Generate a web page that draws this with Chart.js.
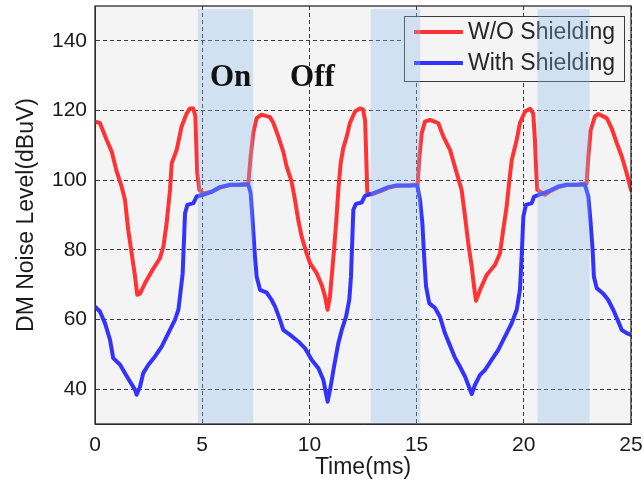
<!DOCTYPE html>
<html>
<head>
<meta charset="utf-8">
<script src="https://cdn.jsdelivr.net/npm/chart.js@4/dist/chart.umd.min.js"></script>
<style>
  html, body { margin: 0; padding: 0; background: #ffffff; }
  #wrap { width: 643px; height: 484px; }
</style>
</head>
<body>
<div id="wrap"><canvas id="c" width="643" height="484"></canvas></div>
<script>
// Differential-mode noise over 25 ms, with and without shielding
const timeWO = [0, 0.23, 0.54, 0.78, 1.01, 1.24, 1.40, 1.55, 1.71, 1.87, 1.97, 2.10, 2.33, 2.64, 3.03, 3.19, 3.34, 3.50, 3.58, 3.81, 4.04, 4.28, 4.43, 4.58, 4.68, 4.73, 4.77, 4.87, 5.05, 5.44, 5.83, 6.30, 6.76, 7.15, 7.26, 7.38, 7.54, 7.77, 8.16, 8.32, 8.55, 8.78, 8.94, 9.17, 9.33, 9.48, 9.64, 9.87, 10.03, 10.34, 10.57, 10.73, 10.85, 10.96, 11.04, 11.15, 11.27, 11.35, 11.46, 11.58, 11.74, 11.89, 12.13, 12.36, 12.50, 12.60, 12.65, 12.70, 12.91, 13.29, 13.68, 14.07, 14.69, 15.05, 15.13, 15.24, 15.39, 15.63, 16.01, 16.25, 16.56, 16.85, 17.10, 17.26, 17.41, 17.57, 17.68, 17.77, 17.96, 18.27, 18.66, 18.89, 19.04, 19.20, 19.33, 19.44, 19.67, 19.82, 20.06, 20.29, 20.44, 20.52, 20.57, 20.63, 20.99, 21.22, 21.61, 22.00, 22.50, 22.93, 23.01, 23.12, 23.32, 23.48, 23.87, 24.10, 24.34, 24.57, 24.80, 25.0];
const levelWO = [116.8, 116.4, 111.6, 108.2, 102.5, 98.2, 94.3, 85.7, 79.0, 72.3, 67.1, 67.4, 70.4, 73.8, 77.6, 80.9, 87.6, 97.2, 104.9, 108.7, 115.4, 119.2, 120.6, 120.6, 118.5, 109.0, 102.0, 97.2, 96.2, 96.6, 97.9, 98.6, 98.7, 99.1, 106.8, 113.5, 117.8, 118.8, 118.1, 116.4, 112.5, 108.2, 103.9, 99.6, 94.3, 88.6, 83.8, 79.0, 76.2, 73.3, 70.0, 66.6, 62.8, 66.6, 72.3, 80.0, 89.6, 97.2, 104.9, 109.2, 112.5, 116.4, 119.7, 120.6, 120.3, 117.0, 107.0, 96.3, 95.9, 96.8, 97.8, 98.4, 98.5, 98.8, 106.8, 113.5, 116.8, 117.3, 116.4, 112.5, 108.7, 102.5, 97.2, 89.6, 81.9, 75.2, 69.5, 65.4, 68.5, 72.8, 75.7, 79.0, 85.7, 92.4, 100.1, 105.8, 111.6, 116.4, 119.7, 120.5, 119.2, 111.6, 103.9, 97.2, 95.8, 96.8, 98.0, 98.6, 98.7, 99.1, 106.8, 114.4, 118.3, 119.0, 117.8, 114.9, 110.6, 106.8, 102.0, 97.2];

const timeWith = [0, 0.23, 0.47, 0.70, 0.85, 1.17, 1.40, 1.63, 1.87, 1.94, 2.10, 2.25, 2.49, 2.80, 3.11, 3.42, 3.73, 3.89, 4.00, 4.09, 4.15, 4.20, 4.31, 4.59, 4.74, 5.05, 5.44, 5.83, 6.30, 6.76, 7.15, 7.26, 7.36, 7.46, 7.54, 7.70, 8.01, 8.24, 8.40, 8.63, 8.78, 9.10, 9.48, 9.79, 10.11, 10.42, 10.65, 10.77, 10.85, 10.99, 11.15, 11.35, 11.51, 11.71, 11.86, 11.94, 12.00, 12.05, 12.17, 12.44, 12.59, 12.91, 13.29, 13.68, 14.07, 14.69, 15.03, 15.16, 15.27, 15.35, 15.44, 15.59, 15.86, 16.09, 16.32, 16.56, 16.79, 17.02, 17.26, 17.41, 17.57, 17.72, 17.96, 18.19, 18.50, 18.81, 19.12, 19.44, 19.67, 19.82, 19.90, 19.98, 20.10, 20.37, 20.48, 20.83, 21.22, 21.61, 22.00, 22.85, 23.01, 23.12, 23.21, 23.27, 23.40, 23.71, 23.94, 24.17, 24.41, 24.57, 24.80, 25.0];
const levelWith = [63.7, 62.3, 58.9, 54.2, 48.9, 47.0, 44.6, 42.2, 39.8, 38.4, 40.7, 44.6, 47.0, 49.4, 52.2, 56.1, 59.9, 62.8, 68.5, 73.3, 82.9, 90.5, 92.9, 93.4, 95.3, 95.8, 96.7, 98.0, 98.7, 98.7, 98.7, 96.3, 87.6, 78.1, 72.3, 68.5, 67.7, 65.6, 63.7, 59.9, 57.0, 55.6, 53.7, 51.8, 48.4, 46.0, 42.7, 38.9, 36.4, 40.7, 46.5, 53.2, 57.0, 60.8, 65.6, 72.3, 82.9, 91.5, 93.2, 93.6, 95.5, 96.1, 97.0, 98.0, 98.5, 98.5, 98.5, 94.3, 87.6, 78.1, 69.5, 64.7, 63.3, 60.8, 56.1, 52.5, 49.0, 46.5, 43.6, 41.2, 38.6, 41.2, 44.1, 45.5, 48.4, 51.3, 55.1, 59.0, 62.8, 68.5, 78.1, 89.6, 92.9, 93.4, 95.3, 96.1, 97.0, 98.2, 98.7, 98.7, 95.3, 87.6, 80.0, 72.3, 69.0, 67.4, 65.6, 62.8, 59.4, 57.0, 56.1, 55.6];

const seriesNames = ['W/O Shielding', 'With Shielding'];
const seriesColors = ['rgb(255,51,51)', 'rgb(51,51,255)'];
const xTicks = [0, 5, 10, 15, 20, 25];
const yTicks = [40, 60, 80, 100, 120, 140];

// Switch-on intervals (ms) shaded across the plot
const onIntervals = [[4.80, 7.38], [12.86, 15.17], [20.64, 23.07]];
// State captions placed at (time ms, level dBuV), left/baseline anchored
const stateCaptions = [['On', 5.36, 127.1], ['Off', 9.10, 127.1]];

const toPoints = (xs, ys) => xs.map((t, i) => ({ x: t, y: ys[i] }));

const SANS = '"Liberation Sans", Arial, sans-serif';
const SERIF = '"Liberation Serif", "Times New Roman", serif';

// keep the plot box fixed: no extra margin for overhanging tick labels
const noOverhang = s => { s.paddingTop = 0; s.paddingBottom = 0; s.paddingLeft = 0; s.paddingRight = 0; };

const decor = {
  id: 'decor',
  beforeDraw(chart) {
    const { ctx, chartArea: a } = chart;
    ctx.save();
    ctx.fillStyle = '#f4f4f4';
    ctx.fillRect(a.left, a.top, a.right - a.left, a.bottom - a.top);
    ctx.restore();
  },
  afterDatasetsDraw(chart) {
    const { ctx, chartArea: a, scales: { x, y } } = chart;
    ctx.save();

    // legend box (upper right, inside the axes)
    ctx.font = '23px ' + SANS;
    const textW = Math.max(...seriesNames.map(s => ctx.measureText(s).width));
    const padL = 10, sampleLen = 49, gap = 5, padR = 9, rowH = 31;
    const boxW = padL + sampleLen + gap + textW + padR;
    const boxH = 65;
    const bx = a.right - 7 - boxW, by = a.top + 10;
    ctx.fillStyle = '#f4f4f4';
    ctx.fillRect(bx, by, boxW, boxH);
    ctx.strokeStyle = '#3a3a3a';
    ctx.lineWidth = 1;
    ctx.strokeRect(Math.round(bx) + 0.5, Math.round(by) + 0.5, Math.round(boxW), boxH);
    seriesNames.forEach((name, i) => {
      const cy = by + 16 + i * rowH;
      ctx.strokeStyle = seriesColors[i];
      ctx.lineWidth = 4;
      ctx.beginPath();
      ctx.moveTo(bx + padL, cy);
      ctx.lineTo(bx + padL + sampleLen, cy);
      ctx.stroke();
      ctx.fillStyle = '#262626';
      ctx.textAlign = 'left';
      ctx.textBaseline = 'middle';
      ctx.fillText(name, bx + padL + sampleLen + gap, cy + 1);
    });

    // translucent shading for the switch-on intervals
    ctx.fillStyle = 'rgba(137,187,237,0.32)';
    const yTop = y.getPixelForValue(149.1), yBot = y.getPixelForValue(30.4);
    onIntervals.forEach(([t0, t1]) => {
      const x0 = x.getPixelForValue(t0), x1 = x.getPixelForValue(t1);
      ctx.fillRect(x0, yTop, x1 - x0, yBot - yTop);
    });

    // state captions
    ctx.fillStyle = '#111111';
    ctx.font = 'bold 31px ' + SERIF;
    ctx.textAlign = 'left';
    ctx.textBaseline = 'alphabetic';
    stateCaptions.forEach(([txt, t, v]) => {
      ctx.fillText(txt, x.getPixelForValue(t), y.getPixelForValue(v));
    });

    // axes frame
    ctx.strokeStyle = '#2b2b2b';
    ctx.lineWidth = 1.3;
    ctx.strokeRect(a.left, a.top, a.right - a.left, a.bottom - a.top);
    ctx.restore();
  }
};

new Chart(document.getElementById('c'), {
  type: 'line',
  data: {
    datasets: [
      { label: seriesNames[0], data: toPoints(timeWO, levelWO), borderColor: seriesColors[0],
        borderWidth: 4, pointRadius: 0, tension: 0, order: 1, borderJoinStyle: 'round', borderCapStyle: 'round' },
      { label: seriesNames[1], data: toPoints(timeWith, levelWith), borderColor: seriesColors[1],
        borderWidth: 4, pointRadius: 0, tension: 0, order: 0, borderJoinStyle: 'round', borderCapStyle: 'round' }
    ]
  },
  options: {
    responsive: false,
    animation: false,
    devicePixelRatio: 1,
    events: [],
    layout: { padding: { left: 0, right: 12, top: 6, bottom: 0 } },
    plugins: { legend: { display: false }, tooltip: { enabled: false } },
    scales: {
      x: {
        type: 'linear', min: 0, max: 25,
        afterBuildTicks: s => { s.ticks = xTicks.map(v => ({ value: v })); },
        afterFit: s => { s.height = 60; noOverhang(s); },
        grid: { color: 'rgba(40,40,40,0.9)', lineWidth: 1, drawTicks: false },
        border: { display: true, color: '#2b2b2b', width: 1, dash: [4, 3] },
        ticks: { font: { family: SANS, size: 21 }, color: '#1a1a1a', padding: 9, maxRotation: 0 },
        title: { display: true, text: 'Time(ms)', font: { family: SANS, size: 23 }, color: '#1a1a1a',
                 padding: { top: 3, bottom: 3 } }
      },
      y: {
        type: 'linear', min: 30, max: 150,
        afterBuildTicks: s => { s.ticks = yTicks.map(v => ({ value: v })); },
        afterFit: s => { s.width = 95; noOverhang(s); },
        grid: { color: 'rgba(40,40,40,0.9)', lineWidth: 1, drawTicks: false },
        border: { display: true, color: '#2b2b2b', width: 1, dash: [4, 3] },
        ticks: { font: { family: SANS, size: 21 }, color: '#1a1a1a', padding: 8 },
        title: { display: true, text: 'DM Noise Level(dBuV)', font: { family: SANS, size: 23 }, color: '#1a1a1a',
                 padding: { top: 13, bottom: 0 } }
      }
    }
  },
  plugins: [decor]
});
</script>
</body>
</html>
